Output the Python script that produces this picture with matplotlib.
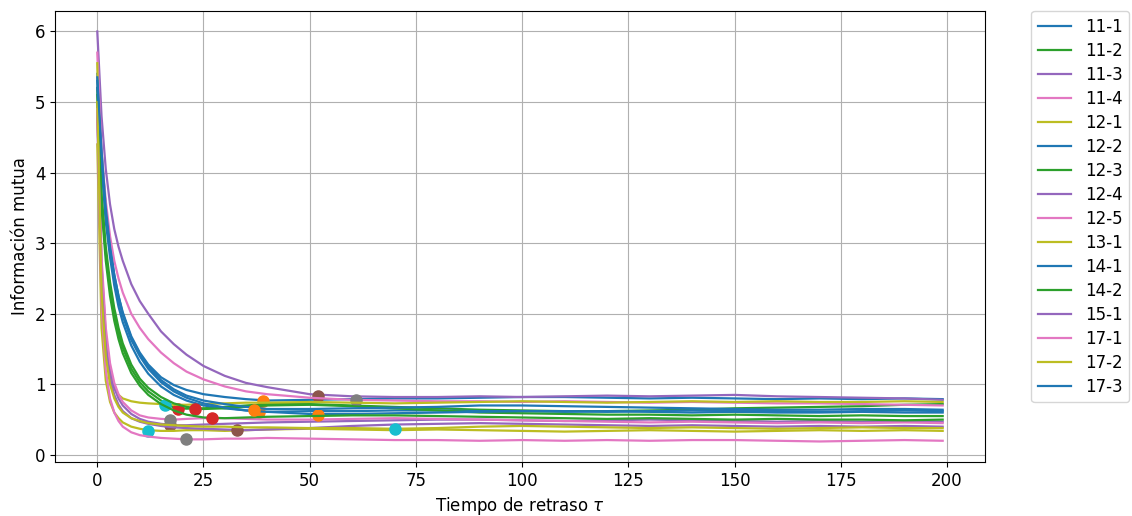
import matplotlib
matplotlib.use("Agg")
import matplotlib.pyplot as plt

plt.rcParams["font.size"] = 12

# Delay values (tau) at which the curves are sampled
tau = [0, 1, 2, 3, 4, 5, 6, 8, 10, 12, 15, 18, 21, 25, 30, 35, 40, 50, 60, 70,
       80, 90, 100, 110, 120, 130, 140, 150, 160, 170, 180, 190, 199]

labels = ["11-1", "11-2", "11-3", "11-4", "12-1", "12-2", "12-3", "12-4",
          "12-5", "13-1", "14-1", "14-2", "15-1", "17-1", "17-2", "17-3"]

mi_11_1 = [5.40, 4.30, 3.50, 2.95, 2.55, 2.25, 2.02, 1.68, 1.45, 1.28, 1.10, 0.99, 0.92, 0.86, 0.82, 0.79, 0.77,
           0.78, 0.79, 0.80, 0.80, 0.81, 0.82, 0.82, 0.81, 0.80, 0.81, 0.80, 0.79, 0.80, 0.79, 0.80, 0.79]
mi_11_2 = [5.10, 3.60, 2.85, 2.35, 2.00, 1.72, 1.52, 1.22, 1.03, 0.90, 0.77, 0.67, 0.655, 0.66, 0.68, 0.70, 0.72,
           0.72, 0.70, 0.68, 0.66, 0.64, 0.63, 0.62, 0.62, 0.63, 0.64, 0.66, 0.67, 0.68, 0.69, 0.71, 0.72]
mi_11_3 = [6.00, 4.80, 4.05, 3.55, 3.20, 2.95, 2.75, 2.42, 2.18, 2.00, 1.75, 1.57, 1.42, 1.26, 1.12, 1.02, 0.96,
           0.86, 0.83, 0.82, 0.82, 0.83, 0.82, 0.83, 0.84, 0.83, 0.84, 0.85, 0.83, 0.82, 0.81, 0.80, 0.78]
mi_11_4 = [5.70, 4.30, 3.60, 3.10, 2.75, 2.50, 2.30, 2.00, 1.80, 1.64, 1.45, 1.30, 1.18, 1.07, 0.97, 0.90, 0.86,
           0.81, 0.78, 0.77, 0.76, 0.76, 0.75, 0.76, 0.75, 0.74, 0.75, 0.74, 0.73, 0.73, 0.72, 0.71, 0.70]
mi_12_1 = [5.55, 2.60, 1.60, 1.15, 0.95, 0.85, 0.80, 0.76, 0.74, 0.73, 0.72, 0.71, 0.71, 0.72, 0.73, 0.74, 0.74,
           0.75, 0.74, 0.73, 0.74, 0.75, 0.76, 0.75, 0.74, 0.75, 0.76, 0.75, 0.76, 0.75, 0.75, 0.76, 0.75]
mi_12_2 = [5.30, 4.10, 3.30, 2.80, 2.40, 2.10, 1.88, 1.55, 1.32, 1.15, 0.97, 0.85, 0.77, 0.70, 0.66, 0.63, 0.61,
           0.62, 0.62, 0.63, 0.63, 0.62, 0.62, 0.61, 0.62, 0.61, 0.60, 0.61, 0.60, 0.60, 0.61, 0.60, 0.60]
mi_12_3 = [5.20, 3.70, 2.95, 2.45, 2.08, 1.80, 1.58, 1.28, 1.08, 0.95, 0.82, 0.73, 0.68, 0.65, 0.66, 0.68, 0.70,
           0.71, 0.69, 0.66, 0.63, 0.60, 0.59, 0.58, 0.57, 0.57, 0.56, 0.57, 0.56, 0.55, 0.56, 0.55, 0.55]
mi_12_4 = [4.90, 2.70, 1.70, 1.22, 0.95, 0.80, 0.70, 0.58, 0.51, 0.47, 0.44, 0.42, 0.42, 0.43, 0.44, 0.45, 0.46,
           0.47, 0.48, 0.49, 0.50, 0.50, 0.49, 0.48, 0.49, 0.50, 0.49, 0.48, 0.47, 0.48, 0.47, 0.48, 0.47]
mi_12_5 = [5.00, 2.80, 1.80, 1.30, 1.02, 0.86, 0.75, 0.63, 0.56, 0.53, 0.51, 0.50, 0.51, 0.52, 0.52, 0.51, 0.50,
           0.50, 0.51, 0.52, 0.51, 0.50, 0.49, 0.48, 0.47, 0.46, 0.47, 0.46, 0.45, 0.46, 0.45, 0.46, 0.45]
mi_13_1 = [4.40, 1.80, 1.05, 0.75, 0.60, 0.52, 0.46, 0.40, 0.37, 0.35, 0.34, 0.34, 0.35, 0.35, 0.34, 0.35, 0.36,
           0.37, 0.36, 0.35, 0.36, 0.35, 0.34, 0.33, 0.34, 0.35, 0.34, 0.33, 0.34, 0.35, 0.34, 0.35, 0.34]
mi_14_1 = [5.20, 4.20, 3.40, 2.90, 2.50, 2.20, 1.97, 1.63, 1.40, 1.22, 1.03, 0.90, 0.81, 0.73, 0.67, 0.63, 0.61,
           0.58, 0.58, 0.59, 0.60, 0.61, 0.62, 0.62, 0.61, 0.62, 0.63, 0.62, 0.62, 0.61, 0.62, 0.63, 0.62]
mi_14_2 = [5.00, 3.50, 2.75, 2.25, 1.90, 1.64, 1.44, 1.16, 0.98, 0.85, 0.72, 0.63, 0.57, 0.53, 0.52, 0.53, 0.54,
           0.55, 0.56, 0.56, 0.55, 0.54, 0.53, 0.52, 0.51, 0.52, 0.51, 0.50, 0.51, 0.50, 0.50, 0.49, 0.50]
mi_15_1 = [4.80, 2.40, 1.50, 1.08, 0.85, 0.71, 0.62, 0.52, 0.47, 0.44, 0.41, 0.39, 0.38, 0.37, 0.36, 0.35, 0.36,
           0.38, 0.41, 0.43, 0.44, 0.45, 0.44, 0.43, 0.42, 0.41, 0.42, 0.41, 0.40, 0.41, 0.40, 0.41, 0.40]
mi_17_1 = [4.90, 2.10, 1.20, 0.80, 0.60, 0.48, 0.40, 0.32, 0.28, 0.26, 0.24, 0.23, 0.22, 0.22, 0.23, 0.23, 0.24,
           0.23, 0.22, 0.21, 0.21, 0.20, 0.21, 0.20, 0.21, 0.20, 0.21, 0.21, 0.20, 0.19, 0.20, 0.21, 0.20]
mi_17_2 = [5.00, 2.30, 1.40, 1.00, 0.80, 0.68, 0.60, 0.52, 0.48, 0.45, 0.43, 0.42, 0.41, 0.40, 0.40, 0.39, 0.39,
           0.38, 0.38, 0.37, 0.38, 0.40, 0.41, 0.40, 0.39, 0.38, 0.39, 0.38, 0.37, 0.38, 0.39, 0.38, 0.38]
mi_17_3 = [5.35, 4.30, 3.50, 2.95, 2.55, 2.25, 2.00, 1.66, 1.43, 1.25, 1.06, 0.93, 0.84, 0.77, 0.72, 0.68, 0.65,
           0.65, 0.66, 0.67, 0.68, 0.70, 0.70, 0.69, 0.68, 0.67, 0.66, 0.65, 0.64, 0.64, 0.65, 0.65, 0.64]

series = [mi_11_1, mi_11_2, mi_11_3, mi_11_4, mi_12_1, mi_12_2, mi_12_3, mi_12_4,
          mi_12_5, mi_13_1, mi_14_1, mi_14_2, mi_15_1, mi_17_1, mi_17_2, mi_17_3]

# First minimum of each curve (delay, mutual information)
min_tau = [39, 19, 52, 61, 16, 38, 23, 17, 17, 12, 52, 27, 33, 21, 70, 37]
min_val = [0.77, 0.65, 0.84, 0.78, 0.71, 0.61, 0.65, 0.42, 0.50, 0.34, 0.57, 0.52, 0.35, 0.22, 0.37, 0.63]

fig = plt.figure(figsize=(11.32, 5.16), dpi=100)
ax = fig.add_axes([0.0486, 0.1047, 0.8215, 0.874])

for i, (lab, vals) in enumerate(zip(labels, series)):
    ax.plot(tau, vals, color=f"C{(2 * i) % 10}", lw=1.6, label=lab)
    ax.plot([min_tau[i]], [min_val[i]], "o", color=f"C{(2 * i + 1) % 10}", markersize=8)

ax.grid(True)
ax.set_xlabel(r"Tiempo de retraso $\tau$")
ax.set_ylabel("Información mutua")
handles, labs = ax.get_legend_handles_labels()
ax.legend(handles, labs, loc="upper left", bbox_to_anchor=(1.05, 1), borderaxespad=0.,
          labelspacing=0.36)

fig.savefig("out.png", dpi=100)
